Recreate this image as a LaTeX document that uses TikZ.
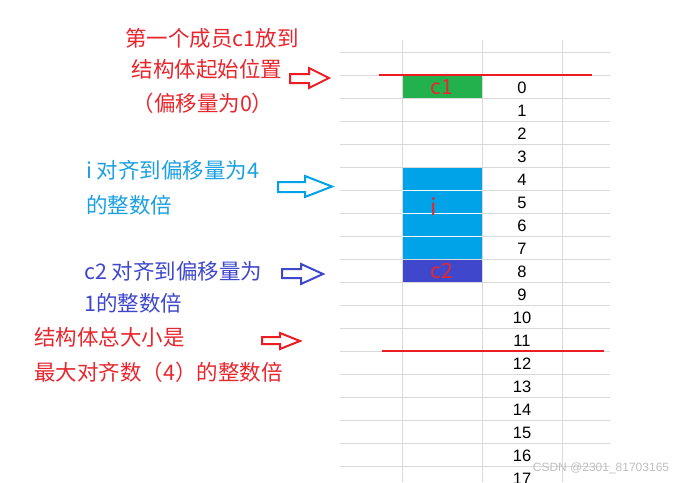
\documentclass[tikz,border=0pt]{standalone}
\usepackage{fontspec}
\setmainfont{Noto Sans CJK SC}
\newfontfamily\numfont{Liberation Sans}
\definecolor{pred}{HTML}{ED1C24}
\definecolor{tred}{HTML}{E8262E}
\definecolor{pblue}{HTML}{00A2E8}
\definecolor{tblue}{HTML}{1BA1E2}
\definecolor{pindigo}{HTML}{3F48CC}
\definecolor{pgreen}{HTML}{22B14C}
\definecolor{gridc}{HTML}{D9D9D9}
\tikzset{
  gridline/.style={draw=gridc, line width=1pt},
  redline/.style={draw=pred, line width=2.8pt},
  cjk/.style={inner sep=0pt, font=\fontsize{21.5}{26}\selectfont},
  numst/.style={inner sep=0pt, font=\numfont\fontsize{16.5}{18}\selectfont, text=black},
  celltext/.style={inner sep=0pt, text=tred, font=\fontsize{21}{24}\selectfont},
  hollow/.style={line width=2pt, line join=miter, fill=white},
}
\begin{document}
\begin{tikzpicture}[x=1pt,y=-1pt]
\useasboundingbox (0,0) rectangle (690,482);
\fill[white] (0,0) rectangle (690,482);
% cells
\fill[pgreen] (402,75) rectangle (482,98);
\fill[pblue] (402,167) rectangle (482,259);
\fill[pindigo] (402,259) rectangle (482,282);
% grid
\foreach \y in {52,75,...,466} \draw[gridline] (340,\y) -- (610,\y);
\foreach \x in {402,482,562} \draw[gridline] (\x,40) -- (\x,482);
\foreach \y in {190,213,236} \draw[draw=white!85!gridc, line width=1pt] (402,\y) -- (482,\y);
% cell labels
\node[celltext] (c1) at (442,87) {c1};
\node[celltext, font=\fontsize{23}{26}\selectfont] (ivar) at (434,207) {i};
\node[celltext] (c2) at (442,271) {c2};
% offsets
\foreach \i in {0,...,17} \node[numst] (n\i) at (522,{75+23*\i+13}) {\i};
% red boundary lines
\coordinate (la) at (379,75); \coordinate (lb) at (592,75);
\draw[redline] (la) -- (lb);
\coordinate (lc) at (382,351); \coordinate (ld) at (604,351);
\draw[redline] (lc) -- (ld);
% texts
\node[cjk, text=tred] (t1a) at (212,38) {第一个成员c1放到};
\node[cjk, text=tred] (t1b) at (207,69) {结构体起始位置};
\node[cjk, text=tred] (t1c) at (203,103) {（偏移量为0）};
\node[cjk, text=tblue, anchor=west] (t2a) at (86,170) {i 对齐到偏移量为4};
\node[cjk, text=tblue, anchor=west] (t2b) at (86,205) {的整数倍};
\node[cjk, text=pindigo, anchor=west] (t3a) at (84,271) {c2 对齐到偏移量为};
\node[cjk, text=pindigo, anchor=west] (t3b) at (84,303) {1的整数倍};
\node[cjk, text=tred, anchor=west] (t4a) at (34,337) {结构体总大小是};
\node[cjk, text=tred, anchor=west] (t4b) at (34,372) {最大对齐数（4）的整数倍};
% hollow arrows
\draw[hollow, draw=pred] (290,74) -- (309,74) -- (309,68) -- (329,78) -- (309,88) -- (309,83) -- (290,83) -- cycle;
\draw[hollow, draw=pblue] (278,182) -- (305,182) -- (305,176) -- (332,186.5) -- (305,197) -- (305,192) -- (278,192) -- cycle;
\draw[hollow, draw=pindigo] (282,269) -- (301,269) -- (301,264) -- (323,274) -- (301,284) -- (301,278) -- (282,278) -- cycle;
\draw[hollow, draw=pred] (262,337) -- (280,337) -- (280,333) -- (300,341) -- (280,349) -- (280,344) -- (262,344) -- cycle;
% watermark
\node[inner sep=0pt, text=black!25, font=\numfont\fontsize{12}{14}\selectfont] (wm) at (601,468) {CSDN @2301\_81703165};
\end{tikzpicture}
\end{document}
